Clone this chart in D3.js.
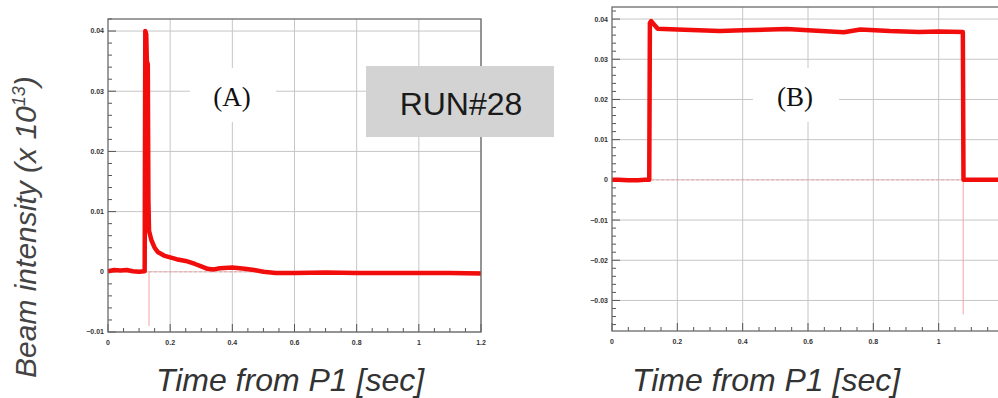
<!DOCTYPE html>
<html>
<head>
<meta charset="utf-8">
<script src="https://cdn.jsdelivr.net/npm/d3@7"></script>
<style>
  body { margin: 0; background: #fff; }
  svg { display: block; font-family: "Liberation Sans", Arial, sans-serif; }
  .grid line { stroke: #c6c6c6; stroke-width: 1; }
  .frame { fill: none; stroke: #6a6a6a; stroke-width: 1.3; }
  .tick-lbl { font-size: 7px; font-weight: bold; fill: #333; }
  .trace { fill: none; stroke: #f20d0d; stroke-width: 4.5; stroke-linejoin: round; }
  .guide { stroke: #f4a3a3; stroke-width: 1; }
</style>
</head>
<body>
<svg id="chart" width="998" height="398"></svg>
<script>
// tempi (s) e intensita' (x 1e13)
const timeA = [0, 0.02, 0.04, 0.06, 0.08, 0.1, 0.118, 0.12, 0.123, 0.125, 0.128, 0.13, 0.132,
  0.135, 0.14, 0.15, 0.16, 0.18, 0.2, 0.22, 0.25, 0.28, 0.3, 0.32, 0.34, 0.36, 0.4, 0.44,
  0.47, 0.5, 0.54, 0.6, 0.7, 0.8, 0.9, 1.0, 1.1, 1.2];
const beamA = [0.0001, 0.0003, 0.0002, 0.0003, 0.0001, 0.0000, 0.0001, 0.0400, 0.0395, 0.0350,
  0.0345, 0.0120, 0.0068, 0.0062, 0.0052, 0.0040, 0.0033, 0.0027, 0.0024, 0.0021, 0.0018,
  0.0013, 0.0009, 0.0005, 0.0004, 0.0006, 0.0007, 0.0005, 0.0003, 0.0000, -0.0002, -0.0002,
  -0.0001, -0.0002, -0.0002, -0.0002, -0.0002, -0.0003];

const timeB = [0, 0.02, 0.05, 0.08, 0.1, 0.114, 0.116, 0.12, 0.126, 0.14, 0.2, 0.33, 0.4, 0.535,
  0.6, 0.71, 0.76, 0.85, 0.94, 1.0, 1.074, 1.076, 1.1, 1.2];
const beamB = [0.0000, 0.0000, -0.0001, -0.0001, 0.0000, 0.0000, 0.0390, 0.0395, 0.0389, 0.0376,
  0.0374, 0.0370, 0.0372, 0.0375, 0.0372, 0.0367, 0.0374, 0.0370, 0.0368, 0.0369, 0.0368,
  0.0000, 0.0000, 0.0000];

// linee guida rosa (inizio/fine fascio)
const guideA = { tFrom: 0.132, tTo: 1.2, tDrop: 0.132, drop: -0.009 };
const guideB = { tFrom: 0.12, tTo: 1.075, tDrop: 1.075, drop: -0.0335 };

const yTicksA = [-0.01, 0, 0.01, 0.02, 0.03, 0.04];
const yTicksB = [-0.03, -0.02, -0.01, 0, 0.01, 0.02, 0.03, 0.04];
const xTicks  = [0, 0.2, 0.4, 0.6, 0.8, 1, 1.2];

const W = 998;
const svg = d3.select('#chart');
const fmt = v => (v === 0 ? '0' : d3.format('.2~f')(v));

function drawPanel(cfg) {
  const x = d3.scaleLinear().domain([0, 1.2]).range(cfg.xr);
  const y = d3.scaleLinear().domain(cfg.yd).range(cfg.yr);
  const g = svg.append('g');

  // griglia
  const grid = g.append('g').attr('class', 'grid');
  grid.selectAll('.gx').data(xTicks.slice(1)).enter().append('line')
    .attr('x1', d => x(d)).attr('x2', d => x(d))
    .attr('y1', cfg.yr[0]).attr('y2', cfg.yr[1]);
  grid.selectAll('.gy').data(cfg.yTicks).enter().append('line')
    .attr('x1', cfg.xr[0]).attr('x2', cfg.xr[1])
    .attr('y1', d => y(d)).attr('y2', d => y(d));

  // tacche minori verso l'interno
  const yMinor = d3.range(Math.ceil(cfg.yd[0] / 0.002), Math.floor(cfg.yd[1] / 0.002) + 1)
    .map(i => i * 0.002);
  g.selectAll('.ym').data(yMinor).enter().append('line')
    .attr('x1', cfg.xr[0]).attr('x2', d => cfg.xr[0] + (Math.abs(d * 100 - Math.round(d * 100)) < 1e-6 ? 8 : 4))
    .attr('y1', d => y(d)).attr('y2', d => y(d))
    .attr('stroke', '#555').attr('stroke-width', 1);
  const xMinor = d3.range(0, 25).map(i => i * 0.05);
  g.selectAll('.xm').data(xMinor).enter().append('line')
    .attr('x1', d => x(d)).attr('x2', d => x(d))
    .attr('y1', cfg.yr[0]).attr('y2', (d, i) => cfg.yr[0] - (i % 4 === 0 ? 8 : 4))
    .attr('stroke', '#555').attr('stroke-width', 1);

  // etichette assi (solo quelle visibili)
  g.selectAll('.yl').data(cfg.yTicks).enter().append('text')
    .attr('class', 'tick-lbl')
    .attr('x', cfg.xr[0] - 4).attr('y', d => y(d)).attr('dy', '0.35em')
    .attr('text-anchor', 'end').text(fmt);
  g.selectAll('.xl').data(xTicks.filter(d => x(d) < W - 6)).enter().append('text')
    .attr('class', 'tick-lbl')
    .attr('x', d => x(d)).attr('y', cfg.yr[0] + 13)
    .attr('text-anchor', 'middle').text(fmt);

  // linee guida
  const gd = cfg.guide;
  g.append('line').attr('class', 'guide').attr('stroke-dasharray', '3,2')
    .attr('x1', x(gd.tFrom)).attr('x2', x(gd.tTo)).attr('y1', y(0)).attr('y2', y(0));
  g.append('line').attr('class', 'guide')
    .attr('x1', x(gd.tDrop)).attr('x2', x(gd.tDrop))
    .attr('y1', y(0)).attr('y2', y(gd.drop));

  // traccia
  const line = d3.line().x((d, i) => x(cfg.t[i])).y(d => y(d));
  g.append('path').datum(cfg.v).attr('class', 'trace').attr('d', line);

  // cornice
  g.append('rect').attr('class', 'frame')
    .attr('x', cfg.xr[0]).attr('y', cfg.yr[1])
    .attr('width', cfg.xr[1] - cfg.xr[0]).attr('height', cfg.yr[0] - cfg.yr[1]);

  // riquadro etichetta (A)/(B)
  g.append('rect').attr('x', cfg.tag.x - 42).attr('y', 68).attr('width', 86).attr('height', 54)
    .attr('fill', '#fff');
  g.append('text').attr('x', cfg.tag.x).attr('y', 106).attr('text-anchor', 'middle')
    .style('font-family', '"Liberation Serif", "Times New Roman", serif')
    .style('font-size', '27px').attr('fill', '#111').text(cfg.tag.label);

  // titolo asse x
  svg.append('text').attr('x', cfg.xLabelX).attr('y', 391).attr('text-anchor', 'middle')
    .style('font-size', '32px').style('font-style', 'italic').attr('fill', '#333')
    .text('Time from P1 [sec]');
}

drawPanel({ t: timeA, v: beamA, xr: [108, 481], yr: [332, 19], yd: [-0.01, 0.042],
  yTicks: yTicksA, guide: guideA, tag: { x: 232, label: '(A)' }, xLabelX: 290 });
drawPanel({ t: timeB, v: beamB, xr: [612, 1004], yr: [331, 7], yd: [-0.0376, 0.043],
  yTicks: yTicksB, guide: guideB, tag: { x: 795, label: '(B)' }, xLabelX: 766 });

// riquadro RUN#28
svg.append('rect').attr('x', 366).attr('y', 66).attr('width', 188).attr('height', 71)
  .attr('fill', '#d3d3d3');
svg.append('text').attr('x', 461).attr('y', 115).attr('text-anchor', 'middle')
  .style('font-size', '32px').attr('fill', '#1a1a1a').text('RUN#28');

// titolo asse y (verticale)
const yt = svg.append('text').attr('transform', 'rotate(-90)')
  .attr('x', -378).attr('y', 36)
  .style('font-size', '30px').style('font-style', 'italic').attr('fill', '#444');
yt.append('tspan').text('Beam intensity (x 10');
yt.append('tspan').attr('dy', -11).style('font-size', '18px').text('13');
yt.append('tspan').attr('dy', 11).text(')');
</script>
</body>
</html>
